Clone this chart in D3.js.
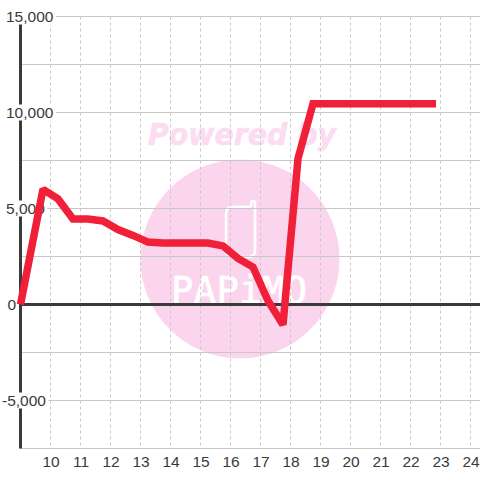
<!DOCTYPE html>
<html>
<head>
<meta charset="utf-8">
<script src="https://cdnjs.cloudflare.com/ajax/libs/d3/7.8.5/d3.min.js"></script>
<style>
  html, body { margin: 0; padding: 0; background: #fff; }
  svg { display: block; }
  text { font-family: "Liberation Sans", Arial, sans-serif; }
</style>
</head>
<body>
<svg width="480" height="480"></svg>
<script>
var hours = [9, 9.75, 10.25, 10.75, 11.25, 11.75, 12.25, 12.75, 13.25, 13.75, 14.25, 14.75, 15.25, 15.75, 16.25, 16.75, 17.25, 17.75, 18.25, 18.75, 19.25, 19.75, 20.25, 20.75, 21.25, 21.75, 22.25, 22.85];
var balance = [0, 6000, 5500, 4450, 4450, 4350, 3900, 3600, 3250, 3200, 3200, 3200, 3200, 3050, 2400, 1950, 200, -1050, 7600, 10450, 10450, 10450, 10450, 10450, 10450, 10450, 10450, 10450];
var xTicks = [10, 11, 12, 13, 14, 15, 16, 17, 18, 19, 20, 21, 22, 23, 24];
var yGrid = [15000, 12500, 10000, 7500, 5000, 2500, -2500, -5000, -7500];
var yLabels = [15000, 10000, 5000, 0, -5000];

var svg = d3.select('svg');

var x = d3.scaleLinear().domain([9, 24]).range([20.5, 470.5]),
  y = d3.scaleLinear().domain([15000, -7500]).range([16.5, 448.5]);

var ink = '#3a3a3a',
  gridColor = '#c8c8c8',
  red = '#f02038',
  pink = '#fbd5ee';

// watermark sits under the grid
var mark = svg.append('g');
mark.append('circle').attr('cx', 240).attr('cy', 259).attr('r', 99.5).attr('fill', pink);
mark.append('text')
  .attr('x', 148).attr('y', 145)
  .attr('textLength', 188)
  .attr('lengthAdjust', 'spacingAndGlyphs')
  .style('font', 'italic bold 30px "DejaVu Sans"')
  .attr('fill', '#fcdcf0')
  .attr('stroke', '#fcdcf0')
  .attr('stroke-width', 0.6)
  .text('Powered by');
mark.append('path')
  .attr('d', 'M251 207 L251 203 A2 2 0 0 1 255 203 L255 250 Q255 257 248 257 L233 257 Q226 257 226 250 L226 214 Q226 207 233 207 L251 207')
  .attr('fill', 'none')
  .attr('stroke', '#fff')
  .attr('stroke-width', 2.5);
mark.append('text')
  .attr('x', 171).attr('y', 303)
  .attr('textLength', 136)
  .style('font', '37px "DejaVu Sans Mono"')
  .attr('fill', '#fff')
  .attr('stroke', '#fff')
  .attr('stroke-width', 0.7)
  .text('PAPiMO');

var grid = svg.append('g');
grid.selectAll('.h')
  .data(yGrid)
  .enter()
  .append('line')
  .attr('class', 'h')
  .attr('x1', x(9)).attr('x2', 480)
  .attr('y1', d => y(d)).attr('y2', d => y(d))
  .attr('stroke', gridColor);
grid.selectAll('.v')
  .data(xTicks)
  .enter()
  .append('line')
  .attr('class', 'v')
  .attr('x1', d => x(d)).attr('x2', d => x(d))
  .attr('y1', y(15000)).attr('y2', y(-7500))
  .attr('stroke', gridColor)
  .attr('stroke-dasharray', '3,3');

// axes
svg.append('line')
  .attr('x1', x(9)).attr('x2', x(9))
  .attr('y1', y(15000)).attr('y2', y(-7500))
  .attr('stroke', ink).attr('stroke-width', 3);
svg.append('line')
  .attr('x1', x(9)).attr('x2', 480)
  .attr('y1', y(0)).attr('y2', y(0))
  .attr('stroke', ink).attr('stroke-width', 3);

var xAxis = d3.axisBottom(x).tickValues(xTicks).tickSize(0).tickPadding(0).tickFormat(d3.format('d'));
var xg = svg.append('g').attr('transform', 'translate(0,453)').call(xAxis);
xg.select('.domain').remove();
xg.selectAll('text').style('font-size', '15.5px').attr('fill', ink).attr('y', 0).attr('dy', '0.9em');

// y labels carry a white plate that cuts the axis and the grid
var fmt = d3.format(',');
var labels = svg.selectAll('.ylab')
  .data(yLabels)
  .enter()
  .append('g')
  .attr('class', 'ylab')
  .attr('transform', d => 'translate(0,' + y(d) + ')');
labels.append('rect').attr('fill', '#fff');
labels.append('text')
  .attr('x', d => (d < 0 ? 2 : d === 0 ? 7.5 : 6))
  .attr('dy', '0.35em')
  .style('font-size', '15.5px')
  .attr('fill', ink)
  .text(d => fmt(d).replace('\u2212', '-'));
labels.each(function() {
  var b = d3.select(this).select('text').node().getBBox();
  d3.select(this).select('rect')
    .attr('x', b.x).attr('y', -8)
    .attr('width', b.width + 2).attr('height', 16);
});

var line = d3.line().x((d, i) => x(hours[i])).y(d => y(d));
svg.append('path')
  .attr('d', line(balance))
  .attr('fill', 'none')
  .attr('stroke', red)
  .attr('stroke-width', 7.5)
  .attr('stroke-linejoin', 'miter')
  .attr('stroke-miterlimit', 1.5)
  .attr('stroke-linecap', 'butt');
</script>
</body>
</html>
